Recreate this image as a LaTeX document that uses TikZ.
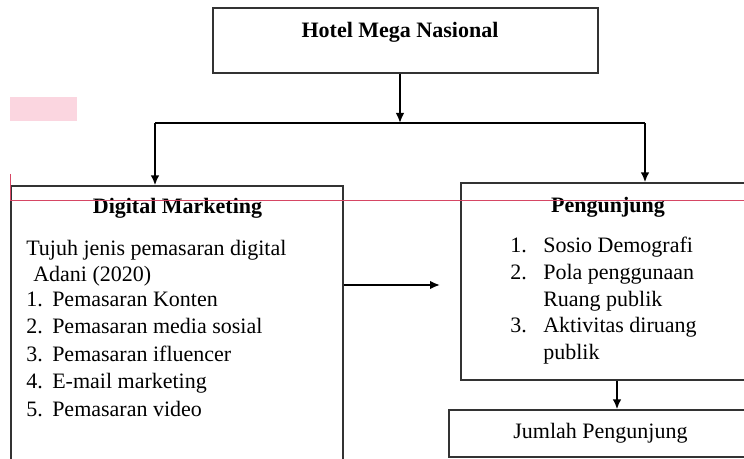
\documentclass[tikz,border=0pt]{standalone}
\usepackage{fontspec}
\setmainfont{Liberation Serif}
\usetikzlibrary{arrows.meta}
\definecolor{markpink}{RGB}{251,214,224}
\definecolor{markred}{RGB}{214,70,100}

\begin{document}
\begin{tikzpicture}[x=0.75pt,y=-0.75pt,
    box/.style={draw=black!80, line width=1pt, inner sep=0pt},
    txt/.style={inner sep=0pt, font=\fontsize{16.5}{20}\selectfont},
    link/.style={line width=1.4pt, -{Latex[length=7.5pt,width=6.5pt]}}]
  \useasboundingbox (0,0) rectangle (744,459);
  \clip (0,0) rectangle (744,459);
  % boxes
  \node[box, minimum width=288.75pt, minimum height=48.75pt] (hotel) at (405.5,40.5) {};
  \node[box, minimum width=249pt, minimum height=220.5pt] (dm) at (177,333) {};
  \node[box, minimum width=220.5pt, minimum height=147.75pt] (pengunjung) at (608,281.5) {};
  \node[box, minimum width=227.25pt, minimum height=35.25pt] (jumlah) at (600.5,433.5) {};
  % titles
  \node[txt, anchor=base] (hoteltitle) at (400,38) {\bfseries Hotel Mega Nasional};
  \node[txt, anchor=base] (dmtitle) at (177.5,214) {\bfseries Digital Marketing};
  \node[txt, anchor=base] (pengtitle) at (608,213) {\bfseries Pengunjung};
  \node[txt, anchor=base] (jumlahtext) at (600.5,439) {Jumlah Pengunjung};
  % left list
  \node[txt, anchor=base west] (dmintro) at (26,256) {Tujuh jenis pemasaran digital};
  \node[txt, anchor=base west] (dmsource) at (33,282) {Adani (2020)};
  \foreach \n/\t/\y in {1/Pemasaran Konten/307, 2/Pemasaran media sosial/334,
      3/Pemasaran ifluencer/362, 4/E-mail marketing/389, 5/Pemasaran video/417} {
    \node[txt, anchor=base west] (dmnum\n) at (26,\y) {\n.};
    \node[txt, anchor=base west] (dmitem\n) at (52,\y) {\t};
  }
  % right list
  \node[txt, anchor=base west] (pnum1) at (510,253) {1.};
  \node[txt, anchor=base west] (pitem1) at (543,253) {Sosio Demografi};
  \node[txt, anchor=base west] (pnum2) at (510,280) {2.};
  \node[txt, anchor=base west] (pitem2) at (543,280) {Pola penggunaan};
  \node[txt, anchor=base west] (pitem2b) at (543,307) {Ruang publik};
  \node[txt, anchor=base west] (pnum3) at (510,333) {3.};
  \node[txt, anchor=base west] (pitem3) at (543,333) {Aktivitas diruang};
  \node[txt, anchor=base west] (pitem3b) at (543,360) {publik};
  % connectors
  \coordinate (split) at (400,123);
  \coordinate (bl) at (155,123);
  \coordinate (br) at (645,123);
  \coordinate (mid) at (440,285);
  \coordinate (down) at (617,0);
  \draw[link] (hotel.south -| split) -- (split);
  \draw[line width=1.4pt] (bl) -- (br);
  \draw[link] (bl) -- (bl |- dm.north);
  \draw[link] (br) -- (br |- pengunjung.north);
  \draw[link] (mid -| dm.east) -- (mid);
  \draw[link] (pengunjung.south -| down) -- (jumlah.north -| down);
  % marks
  \fill[markpink] (10,97) rectangle (77,121);
  \draw[markred, line width=0.6pt] (10,174) -- (10,200) -- (744,200);
\end{tikzpicture}
\end{document}
